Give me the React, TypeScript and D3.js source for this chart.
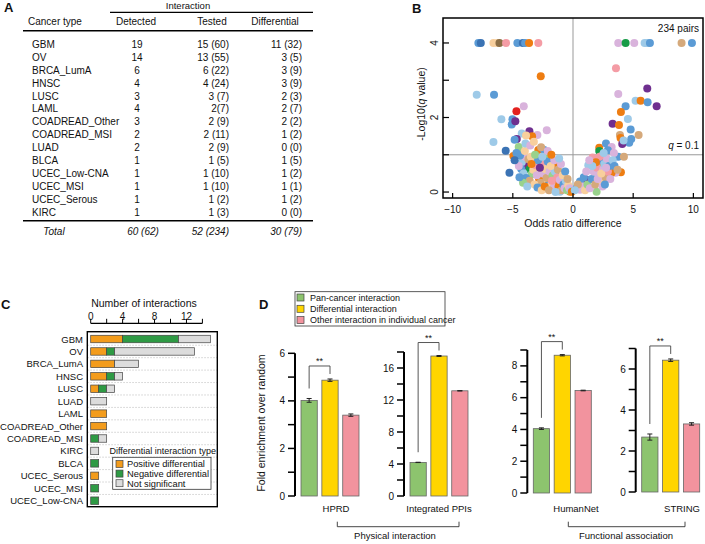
import React from 'react';
import * as d3 from 'd3';

const FONT = '"Liberation Sans", Arial, Helvetica, sans-serif';

// ---------- Panel A: table ----------
const tableTypes = ['GBM', 'OV', 'BRCA_LumA', 'HNSC', 'LUSC', 'LAML', 'COADREAD_Other', 'COADREAD_MSI', 'LUAD', 'BLCA', 'UCEC_Low-CNA', 'UCEC_MSI', 'UCEC_Serous', 'KIRC'];
const detected = ['19', '14', '6', '4', '3', '4', '3', '2', '2', '1', '1', '1', '1', '1'];
const tested = ['15 (60)', '13 (55)', '6 (22)', '4 (24)', '3 (7)', '2(7)', '2 (9)', '2 (11)', '2 (9)', '1 (5)', '1 (10)', '1 (10)', '1 (2)', '1 (3)'];
const differential = ['11 (32)', '3 (5)', '3 (9)', '3 (9)', '2 (3)', '2 (7)', '2 (2)', '1 (2)', '0 (0)', '1 (5)', '1 (2)', '1 (1)', '1 (2)', '0 (0)'];
const totals = ['60 (62)', '52 (234)', '30 (79)'];

// ---------- Panel B: volcano ----------
const palette = ['#9ecae8', '#5b9bd5', '#3b73b4', '#ee7d12', '#f8cf9d', '#8c6e45', '#f49ca5', '#179b47', '#99d28c', '#d9b3dc', '#6f2f8f', '#e3211f', '#d5a97b'];
// [odds ratio difference, -log10 q, colour index]
const pairs: [number, number, number][] = [
  [-7.86, 4, 1], [-7.66, 4, 2], [-6.61, 4, 4], [-6.28, 4, 4], [-6.11, 4, 5], [-5.56, 4, 6], [-4.62, 4, 1], [-4.17, 4, 2], [-3.98, 4, 1], [-3.65, 4, 3], [-2.88, 4, 6],
  [3.76, 4, 9], [4.37, 4, 7], [5.09, 4, 9], [5.95, 4, 0], [6.15, 4, 0], [6.39, 4, 1], [9.02, 4, 12], [9.88, 4, 1],
  [-2.68, 3.11, 3], [-8.0, 2.61, 0], [-6.56, 2.61, 1], [-4.70, 2.17, 11], [-4.09, 2.30, 9], [-5.95, 1.95, 0], [-5.03, 1.95, 1], [-5.09, 1.81, 1], [-4.79, 1.90, 10],
  [-3.62, 1.63, 10], [-2.18, 1.66, 9], [-2.96, 1.53, 9], [-3.40, 1.50, 3], [-4.26, 1.57, 0], [-3.9, 1.52, 4], [-4.67, 1.42, 10], [-4.85, 1.40, 1], [-6.61, 1.34, 0],
  [-5.59, 1.11, 2], [-4.51, 1.21, 8], [-4.40, 1.10, 8], [-4.95, 0.97, 3], [-2.88, 1.13, 3], [-2.40, 1.13, 1], [-2.24, 0.95, 8], [-5.28, 0.52, 2], [-3.85, 0.72, 10],
  [-3.62, 0.61, 7], [-4.25, 0.80, 0], [-3.29, 0.81, 9], [-2.82, 0.35, 3], [-1.91, 0.34, 3], [-1.41, 0.68, 3], [-0.94, 0.47, 10], [-0.25, 0.01, 3], [-1.36, 0.23, 3],
  [-2.05, 0.19, 1], [-1.08, 0.01, 0], [-2.6, 0.59, 4], [-2.46, 0.77, 6], [-3.43, 0.48, 8], [-3.98, 0.95, 9], [-4.4, 0.98, 1], [-4.0, 1.1, 4],
  [-4.3, 0.62, 1], [-4.1, 0.5, 0], [-3.9, 0.38, 1], [-3.7, 0.88, 12], [-3.5, 0.95, 4], [-3.3, 0.6, 4], [-3.1, 0.72, 6], [-3.0, 0.45, 9], [-2.9, 0.85, 1], [-2.7, 0.25, 12],
  [-2.5, 0.5, 9], [-2.3, 0.62, 4], [-2.2, 0.38, 12], [-2.1, 0.82, 1], [-1.95, 0.55, 9], [-1.8, 0.2, 4], [-1.7, 0.44, 8], [-1.6, 0.12, 9], [-1.5, 0.55, 0], [-1.3, 0.4, 6],
  [-1.2, 0.15, 3], [-1.1, 0.32, 9], [-0.95, 0.05, 12], [-0.8, 0.2, 1], [-0.7, 0.1, 9], [-0.6, 0.3, 0], [-0.5, 0.05, 8], [-0.4, 0.18, 4], [-0.3, 0.1, 9], [-0.15, 0.03, 0],
  [-3.6, 0.3, 12], [-3.2, 0.2, 4], [-2.95, 0.12, 1], [-2.6, 0.05, 4], [-2.35, 0.15, 3], [-2.0, 0.05, 12], [-1.75, 0.3, 6], [-1.45, 0.0, 0], [-4.5, 0.7, 9], [-4.15, 0.25, 8],
  [-3.8, 0.15, 0], [-3.45, 0.75, 3], [-3.15, 1.0, 8], [-2.75, 0.65, 10], [-2.55, 0.95, 0], [-1.85, 0.7, 4], [-1.55, 0.85, 9], [-1.25, 0.6, 12], [-1.0, 0.75, 9], [-0.85, 0.45, 4],
  [-0.65, 0.55, 1], [-0.45, 0.35, 12], [-3.95, 1.3, 0], [-3.55, 1.25, 9], [-3.25, 1.35, 4], [-2.65, 1.2, 12], [-2.1, 1.1, 9], [-1.8, 1.0, 3], [-1.15, 0.9, 0], [-4.7, 1.05, 1],
  [-4.85, 0.85, 2], [-4.45, 0.4, 1],
  [3.57, 3.32, 6], [6.17, 2.78, 10], [3.76, 2.63, 9], [5.2, 2.45, 0], [5.62, 2.45, 3], [6.2, 2.41, 1], [6.95, 2.30, 10], [4.37, 2.30, 1], [3.98, 2.15, 3], [4.56, 1.96, 0],
  [3.29, 1.83, 10], [3.82, 1.80, 3], [4.79, 1.68, 1], [3.9, 1.53, 12], [3.95, 1.45, 3], [4.84, 1.42, 1], [5.45, 1.53, 12], [4.67, 1.32, 1], [4.09, 1.29, 10], [4.2, 1.38, 0],
  [2.18, 1.19, 3], [2.74, 1.30, 1], [3.21, 1.21, 9], [2.18, 1.1, 7], [3.76, 0.95, 1], [4.23, 0.95, 12], [1.63, 0.93, 6], [3.98, 0.53, 3], [3.54, 0.52, 9], [1.13, 0.32, 10],
  [1.96, 0.01, 8], [-0.1, 0.01, 3], [0.3, 0.1, 1], [1.27, 0.72, 0], [2.1, 0.77, 3], [0.58, 0.28, 1], [0.58, 0.06, 9], [3.21, 0.52, 3], [1.83, 0.41, 0], [2.9, 1.12, 1],
  [3.4, 1.05, 9], [2.5, 1.0, 6],
  [0.8, 0.15, 9], [1.0, 0.05, 4], [1.2, 0.2, 8], [1.4, 0.1, 9], [1.55, 0.35, 1], [1.7, 0.55, 9], [1.85, 0.2, 12], [2.0, 0.65, 6], [2.15, 0.45, 9], [2.3, 0.85, 1],
  [2.4, 0.3, 4], [2.5, 0.6, 9], [2.6, 0.75, 0], [2.7, 0.4, 12], [2.8, 0.9, 9], [2.9, 0.55, 6], [3.0, 0.7, 1], [3.1, 0.35, 9], [3.3, 0.85, 0], [2.2, 0.95, 6],
  [1.9, 0.8, 3], [1.6, 0.7, 0], [2.45, 0.15, 9], [2.65, 0.2, 1], [0.9, 0.4, 1], [1.1, 0.55, 9], [0.4, 0.2, 12], [0.15, 0.05, 0], [2.05, 0.35, 9], [2.35, 0.5, 4],
  [2.75, 0.65, 9], [3.45, 0.7, 1], [3.7, 0.6, 12], [1.35, 0.85, 9], [2.55, 1.05, 0],
];
const volcanoXTicks = [-10, -5, 0, 5, 10];
const volcanoYTicks = [0, 1, 2, 3, 4];
const volcanoYLabels = [0, 2, 4];

// ---------- Panel C: stacked bars ----------
const cTypes = ['GBM', 'OV', 'BRCA_LumA', 'HNSC', 'LUSC', 'LUAD', 'LAML', 'COADREAD_Other', 'COADREAD_MSI', 'KIRC', 'BLCA', 'UCEC_Serous', 'UCEC_MSI', 'UCEC_Low-CNA'];
const positiveDiff = [4, 2, 3, 2, 1, 0, 2, 2, 0, 0, 0, 1, 0, 0];
const negativeDiff = [7, 1, 0, 1, 1, 0, 0, 0, 1, 0, 1, 0, 1, 1];
const notSignificant = [4, 10, 3, 1, 1, 2, 0, 0, 1, 1, 0, 0, 0, 0];
const cTypeNames = ['Positive differential', 'Negative differential', 'Not significant'];
const cColors = ['#f39c1c', '#2e9a44', '#dcdcdc'];
const cTicks = [0, 4, 8, 12];

// ---------- Panel D: enrichment ----------
const dbNames = ['HPRD', 'Integrated PPIs', 'HumanNet', 'STRING'];
const panCancer = [4.02, 4.2, 4.05, 2.68];
const panErr = [0.08, 0.02, 0.05, 0.15];
const diffInter = [4.87, 17.5, 8.67, 6.43];
const diffErr = [0.05, 0.06, 0.04, 0.06];
const otherInter = [3.4, 13.15, 6.45, 3.32];
const otherErr = [0.05, 0.02, 0.02, 0.06];
const dMax = [6, 18, 9, 7];
const dStep = [2, 4, 2, 2];
const dSeries = ['Pan-cancer interaction', 'Differential interaction', 'Other interaction in individual cancer'];
const dColors = ['#8dc46e', '#ffd500', '#f2939e'];

// layout of the four small plots: axis x, zero y, top y, label x
const dLayout = [
  { ax: 295, y0: 496, yTop: 353.3, lx: 336 },
  { ax: 404, y0: 496, yTop: 352, lx: 439 },
  { ax: 527.3, y0: 493, yTop: 350, lx: 576 },
  { ax: 635.7, y0: 492, yTop: 348.5, lx: 682 },
];

function TablePanel() {
  const y = d3.scaleLinear().domain([0, tableTypes.length - 1]).range([44.5, 212]);
  return (
    <g fontSize={10} fill="#111">
      <text x={4} y={12} fontSize={13} fontWeight="bold">A</text>
      <text x={188} y={8.5} textAnchor="middle" fontSize={9.5}>Interaction</text>
      <line x1={110} x2={313} y1={12.3} y2={12.3} stroke="#000" strokeWidth={1.2} />
      <text x={28} y={25}>Cancer type</text>
      <text x={136} y={25} textAnchor="middle">Detected</text>
      <text x={212} y={25} textAnchor="middle">Tested</text>
      <text x={275} y={25} textAnchor="middle">Differential</text>
      <line x1={23} x2={313} y1={30.7} y2={30.7} stroke="#000" strokeWidth={1.6} />
      {tableTypes.map((t, i) => (
        <g key={t}>
          <text x={32} y={y(i) + 3.5}>{t}</text>
          <text x={137} y={y(i) + 3.5} textAnchor="middle">{detected[i]}</text>
          <text x={229} y={y(i) + 3.5} textAnchor="end">{tested[i]}</text>
          <text x={302} y={y(i) + 3.5} textAnchor="end">{differential[i]}</text>
        </g>
      ))}
      <line x1={23} x2={313} y1={220.7} y2={220.7} stroke="#000" strokeWidth={1.6} />
      <g fontStyle="italic">
        <text x={54} y={235} textAnchor="middle">Total</text>
        <text x={143} y={235} textAnchor="middle">{totals[0]}</text>
        <text x={229} y={235} textAnchor="end">{totals[1]}</text>
        <text x={302} y={235} textAnchor="end">{totals[2]}</text>
      </g>
    </g>
  );
}

function VolcanoPanel() {
  const left = 443, right = 703, top = 18, bottom = 198;
  const x = d3.scaleLinear().domain([-10.8, 10.8]).range([left, right]);
  const y = d3.scaleLinear().domain([-0.16, 4.67]).range([bottom, top]);
  return (
    <g fontSize={10} fill="#111">
      <text x={412} y={13} fontSize={13} fontWeight="bold">B</text>
      <line x1={x(0)} x2={x(0)} y1={top} y2={bottom} stroke="#999" strokeWidth={1} />
      <line x1={left} x2={right} y1={y(1)} y2={y(1)} stroke="#999" strokeWidth={1} />
      {pairs.map((p, i) => (
        <circle key={i} cx={x(p[0])} cy={y(p[1])} r={4} fill={palette[p[2]]} />
      ))}
      <rect x={left} y={top} width={right - left} height={bottom - top} fill="none" stroke="#000" strokeWidth={1.5} />
      {volcanoXTicks.map(t => (
        <g key={t}>
          <line x1={x(t)} x2={x(t)} y1={bottom} y2={bottom - 5} stroke="#000" strokeWidth={1.2} />
          <text x={x(t)} y={213} textAnchor="middle">{t < 0 ? `\u2212${-t}` : t}</text>
        </g>
      ))}
      {volcanoYTicks.map(t => (
        <line key={t} x1={left} x2={left + 6} y1={y(t)} y2={y(t)} stroke="#000" strokeWidth={1.2} />
      ))}
      {volcanoYLabels.map(t => (
        <text key={t} transform={`translate(438,${y(t)}) rotate(-90)`} textAnchor="middle">{t}</text>
      ))}
      <text transform="translate(425,104) rotate(-90)" textAnchor="middle" fontSize={10.5}>
        -Log10(<tspan fontStyle="italic">q</tspan> value)
      </text>
      <text x={x(0)} y={227} textAnchor="middle" fontSize={10.5}>Odds ratio difference</text>
      <text x={699} y={32} textAnchor="end">234 pairs</text>
      <text x={699} y={149} textAnchor="end">
        <tspan fontStyle="italic">q</tspan> = 0.1
      </text>
    </g>
  );
}

function StackedPanel() {
  const left = 87.3, right = 217.3, top = 331.7, bottom = 506.7;
  const x = d3.scaleLinear().domain([0, 1]).range([90.7, 98.68]);
  const yb = d3.scaleBand().domain(cTypes).range([332.8, 506.9]).paddingInner(0.4).paddingOuter(0.2);
  const series = [positiveDiff, negativeDiff, notSignificant];
  const stacked = d3.stack<number>().keys(['0', '1', '2']).value((i, k) => series[+k][i])(cTypes.map((_, i) => i));
  const step = yb.step();
  return (
    <g fontSize={10} fill="#111">
      <text x={1} y={309} fontSize={13} fontWeight="bold">C</text>
      <text x={144} y={307} textAnchor="middle" fontSize={10.5}>Number of interactions</text>
      <line x1={x(0)} x2={x(14)} y1={323.3} y2={323.3} stroke="#000" strokeWidth={1.2} />
      {d3.range(0, 15, 2).map(t => (
        <line key={t} x1={x(t)} x2={x(t)} y1={323.3} y2={318.8} stroke="#000" strokeWidth={1} />
      ))}
      {cTicks.map(t => (
        <text key={t} x={x(t)} y={320} textAnchor="middle">{t}</text>
      ))}
      {cTypes.slice(1).map(c => (
        <line key={c} x1={left} x2={right} y1={(yb(c) as number) - (step - yb.bandwidth()) / 2} y2={(yb(c) as number) - (step - yb.bandwidth()) / 2}
          stroke="#bbb" strokeWidth={0.7} strokeDasharray="1.5,1.5" />
      ))}
      {stacked.map((s, k) => s.map((d, i) => (
        d[1] > d[0] ? (
          <rect key={`${k}-${i}`} x={x(d[0])} y={yb(cTypes[i])} width={x(d[1]) - x(d[0])} height={yb.bandwidth()}
            fill={cColors[k]} stroke="#444" strokeWidth={0.7} />
        ) : null
      )))}
      {cTypes.map(c => (
        <text key={c} x={83} y={(yb(c) as number) + yb.bandwidth() / 2 + 3.5} textAnchor="end" fontSize={9.5}>{c}</text>
      ))}
      <rect x={left} y={top} width={right - left} height={bottom - top} fill="none" stroke="#000" strokeWidth={1.4} />
      <rect x={112.7} y={457.3} width={98.3} height={32} fill="#fff" stroke="#333" strokeWidth={0.8} />
      <text x={109.5} y={454} fontSize={9}>Differential interaction type</text>
      {cTypeNames.map((n, i) => (
        <g key={n}>
          <rect x={116} y={460.5 + i * 9.6} width={7} height={7} fill={cColors[i]} stroke="#444" strokeWidth={0.7} />
          <text x={127} y={467.3 + i * 9.6} fontSize={9.3}>{n}</text>
        </g>
      ))}
    </g>
  );
}

function EnrichPanel() {
  const groups = [panCancer, diffInter, otherInter];
  const errs = [panErr, diffErr, otherErr];
  return (
    <g fontSize={9.5} fill="#111">
      <text x={259} y={309} fontSize={13} fontWeight="bold">D</text>
      <rect x={295} y={291.7} width={150} height={34.3} fill="#fff" stroke="#333" strokeWidth={0.8} />
      {dSeries.map((n, i) => (
        <g key={n}>
          <rect x={297} y={294 + i * 11.3} width={7} height={7} fill={dColors[i]} stroke="#444" strokeWidth={0.7} />
          <text x={310} y={300.8 + i * 11.3} fontSize={9}>{n}</text>
        </g>
      ))}
      <text transform="translate(265,423) rotate(-90)" textAnchor="middle" fontSize={10.5}>Fold enrichment over random</text>
      {dbNames.map((db, j) => {
        const L = dLayout[j];
        const y = d3.scaleLinear().domain([0, dMax[j]]).range([L.y0, L.yTop]);
        const xb = d3.scaleBand().domain(['0', '1', '2']).range([L.ax + 6, L.ax + 64]).paddingInner(0.22);
        const minor = d3.range(0, dMax[j] + 0.001, dStep[j] / 2);
        const major = d3.range(0, dMax[j] + 0.001, dStep[j]);
        const cx = (k: number) => (xb(String(k)) as number) + xb.bandwidth() / 2;
        const panTop = y(groups[0][j] + errs[0][j]);
        const diffTop = y(groups[1][j] + errs[1][j]);
        const brTop = diffTop - 13;
        return (
          <g key={db}>
            <line x1={L.ax} x2={L.ax} y1={L.y0} y2={L.yTop} stroke="#000" strokeWidth={2} />
            {minor.map(t => (
              <line key={t} x1={L.ax - 7} x2={L.ax} y1={y(t)} y2={y(t)} stroke="#000" strokeWidth={1.5} />
            ))}
            {major.map(t => (
              <text key={t} x={L.ax - 10} y={y(t) + 3.5} textAnchor="end" fontSize={10}>{t}</text>
            ))}
            {groups.map((g, k) => (
              <g key={k}>
                <rect x={xb(String(k))} y={y(g[j])} width={xb.bandwidth()} height={L.y0 - y(g[j])}
                  fill={dColors[k]} stroke="#666" strokeWidth={0.8} />
                <line x1={cx(k)} x2={cx(k)} y1={y(g[j] - errs[k][j])} y2={y(g[j] + errs[k][j])} stroke="#222" strokeWidth={1} />
                <line x1={cx(k) - 2.5} x2={cx(k) + 2.5} y1={y(g[j] - errs[k][j])} y2={y(g[j] - errs[k][j])} stroke="#222" strokeWidth={1} />
                <line x1={cx(k) - 2.5} x2={cx(k) + 2.5} y1={y(g[j] + errs[k][j])} y2={y(g[j] + errs[k][j])} stroke="#222" strokeWidth={1} />
              </g>
            ))}
            <path d={`M${cx(0)},${panTop - 10}V${brTop}H${cx(1)}V${diffTop - 5}`} fill="none" stroke="#444" strokeWidth={0.9} />
            <text x={(cx(0) + cx(1)) / 2} y={brTop - 2} textAnchor="middle" fontSize={9}>**</text>
            <text x={L.lx} y={512} textAnchor="middle">{db}</text>
          </g>
        );
      })}
      <path d="M337.3,521.7V526.7H459V521.7" fill="none" stroke="#333" strokeWidth={0.9} />
      <text x={395} y={539} textAnchor="middle">Physical interaction</text>
      <path d="M568.3,521.7V526.7H685V521.7" fill="none" stroke="#333" strokeWidth={0.9} />
      <text x={626} y={539} textAnchor="middle">Functional association</text>
    </g>
  );
}

export default function App() {
  return (
    <svg width={705} height={544} style={{ position: 'absolute', left: 0, top: 0, background: '#fff' }} fontFamily={FONT}>
      <TablePanel />
      <VolcanoPanel />
      <StackedPanel />
      <EnrichPanel />
    </svg>
  );
}
